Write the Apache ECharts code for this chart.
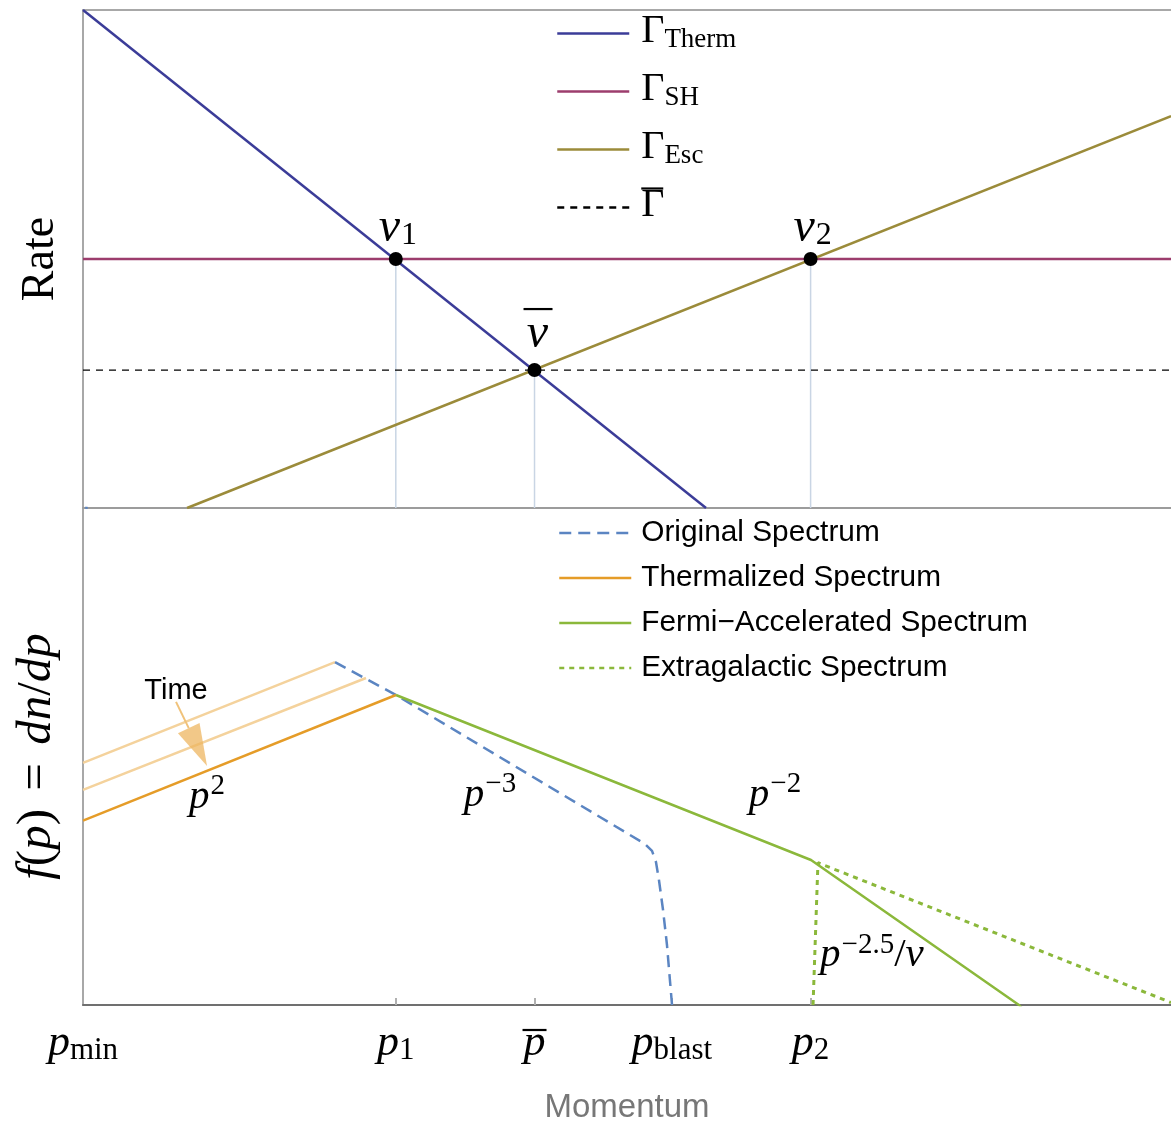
<!DOCTYPE html>
<html>
<head>
<meta charset="utf-8">
<script src="https://cdn.jsdelivr.net/npm/echarts@6/dist/echarts.min.js"></script>
<style>
  html, body { margin: 0; padding: 0; background: #fff; }
  #chart { width: 1171px; height: 1121px; }
</style>
</head>
<body>
<div id="chart"></div>
<script>
// Momentum axis (logarithmic momentum, arbitrary units)
const momentumRange = [0, 8];
const tickValues = [0, 2.30, 3.32, 4.33, 5.35];
const tickNames = ['min', '1', 'bar', 'blast', '2'];

// Upper panel: rates (log scale, arbitrary units)
const rateRange = [0, 10];
const gammaTherm = [[0, 10], [4.581, 0]];
const gammaSH = [[0, 5.0], [8, 5.0]];
const gammaEsc = [[0.765, 0], [8, 7.87]];
const gammaMean = [[0, 2.77], [8, 2.77]];
const crossings = [[2.30, 5.0], [3.32, 2.77], [5.35, 5.0]];
const crossingNames = ['1', 'bar', '2'];

// Lower panel: spectra f(p) (log scale, arbitrary units)
const spectrumRange = [0, 10];
const earlierThermal1 = [[0, 4.87], [1.853, 6.90]];
const earlierThermal2 = [[0, 4.33], [2.081, 6.58]];
const originalSpectrum = [
  [0, 10.6], [0.03, 9.9], null,
  [1.853, 6.90], [2.301, 6.237], [3.801, 3.783], [4.022, 3.42], [4.132, 3.24],
  [4.184, 3.10], [4.213, 2.877], [4.235, 2.515], [4.265, 1.911], [4.294, 1.207],
  [4.331, 0], [4.345, -0.4]
];
const thermalizedSpectrum = [[0, 3.71], [2.301, 6.237]];
const fermiSpectrum = [[2.301, 6.237], [5.353, 2.918], [6.882, 0], [6.95, -0.2]];
const extragalacticSpectrum = [[5.368, -0.2], [5.368, 0], [5.404, 2.862], [8, 0.05]];
const timeArrow = [[0.684, 6.10], [0.912, 4.81]];
const spectrumLabels = [
  { at: [0.684, 6.318], text: '{t|Time}' },
  { at: [0.912, 4.19], text: '{p|p}{sup|2}' },
  { at: [2.993, 4.23], text: '{p|p}{sup|−3}' },
  { at: [5.088, 4.23], text: '{p|p}{sup|−2}' },
  { at: [5.801, 1.00], text: '{p|p}{sup|−2.5}{r|/}{p|v}' }
];

const SERIF = 'Liberation Serif';
const SANS = 'Liberation Sans';

const labelRich = {
  t: { fontFamily: SANS, fontSize: 29, fill: '#000' },
  p: { fontFamily: SERIF, fontStyle: 'italic', fontSize: 41, fill: '#000' },
  r: { fontFamily: SERIF, fontSize: 41, fill: '#000' },
  sup: { fontFamily: SERIF, fontSize: 29, fill: '#000', padding: [0, 0, 20, 1] },
  v: { fontFamily: SERIF, fontStyle: 'italic', fontSize: 48, fill: '#000' },
  sub: { fontFamily: SERIF, fontSize: 32, fill: '#000', padding: [16, 0, 0, 1] }
};

const legendNamesRate = ['Therm', 'SH', 'Esc', 'mean'];
const legendNamesSpectrum = ['Original Spectrum', 'Thermalized Spectrum', 'Fermi−Accelerated Spectrum', 'Extragalactic Spectrum'];

const chart = echarts.init(document.getElementById('chart'));

const frame = { show: true, onZero: false, lineStyle: { color: '#a8a8a8', width: 2 } };
const hidden = { show: false };

function lineSeries(name, data, color, width, dash, xi, yi, z) {
  return {
    type: 'line', name: name, data: data, xAxisIndex: xi, yAxisIndex: yi,
    symbol: 'none', silent: true, animation: false, z: z || 2, clip: true,
    connectNulls: false,
    lineStyle: { color: color, width: width, type: dash || 'solid', cap: 'butt' },
    itemStyle: { color: color }
  };
}

const option = {
  animation: false,
  backgroundColor: '#fff',
  grid: [
    { left: 83, top: 10, width: 1088, height: 498, outerBoundsMode: 'none' },
    { left: 83, top: 508, width: 1088, height: 497, outerBoundsMode: 'none' }
  ],
  xAxis: [
    { type: 'value', gridIndex: 0, min: momentumRange[0], max: momentumRange[1], position: 'bottom',
      axisLine: { show: true, onZero: false, lineStyle: { color: '#9c9c9c', width: 2 } },
      axisTick: hidden, axisLabel: hidden, splitLine: hidden },
    { type: 'value', gridIndex: 0, min: momentumRange[0], max: momentumRange[1], position: 'top',
      axisLine: frame, axisTick: hidden, axisLabel: hidden, splitLine: hidden },
    { type: 'value', gridIndex: 1, min: momentumRange[0], max: momentumRange[1], position: 'bottom',
      axisLine: { show: true, onZero: false, lineStyle: { color: '#707070', width: 2 } },
      axisTick: { show: true, inside: true, length: 7, customValues: tickValues.slice(1),
        lineStyle: { color: '#b0b0b0', width: 2 } },
      splitLine: hidden,
      axisLabel: {
        show: true, margin: 14, customValues: tickValues, hideOverlap: false,
        formatter: function (value) {
          const n = tickNames[tickValues.indexOf(value)];
          if (n === 'bar') return '{bar| }\n{pb|p}';
          return '{p|p}{sub|' + n + '}';
        },
        rich: {
          p: { fontFamily: SERIF, fontStyle: 'italic', fontSize: 44, color: '#000', lineHeight: 48 },
          pb: { fontFamily: SERIF, fontStyle: 'italic', fontSize: 44, color: '#000', lineHeight: 4 },
          bar: { width: 24, height: 2.2, backgroundColor: '#000', lineHeight: 22, fontSize: 2 },
          sub: { fontFamily: SERIF, fontSize: 31, color: '#000', padding: [16, 0, 0, 0] }
        }
      },
      name: 'Momentum', nameLocation: 'middle', nameGap: 86, nameMoveOverlap: false,
      nameTextStyle: { fontFamily: SANS, fontSize: 33, color: '#777' }
    }
  ],
  yAxis: [
    { type: 'value', gridIndex: 0, min: rateRange[0], max: rateRange[1],
      axisLine: frame, axisTick: hidden, axisLabel: hidden, splitLine: hidden,
      name: 'Rate', nameLocation: 'middle', nameRotate: 90, nameGap: 19, nameMoveOverlap: false,
      nameTextStyle: { fontFamily: SERIF, fontSize: 46, color: '#000' } },
    { type: 'value', gridIndex: 1, min: spectrumRange[0], max: spectrumRange[1],
      axisLine: frame, axisTick: hidden, axisLabel: hidden, splitLine: hidden,
      name: '{i|f}{r|(}{i|p}{r|) }{e|=}{r| }{i|dn}{r|/}{i|dp}', nameLocation: 'middle', nameRotate: 90,
      nameGap: 21, nameMoveOverlap: false,
      nameTextStyle: {
        rich: {
          i: { fontFamily: SERIF, fontStyle: 'italic', fontSize: 49, color: '#000' },
          r: { fontFamily: SERIF, fontSize: 49, color: '#000' },
          e: { fontFamily: SERIF, fontSize: 49, color: '#000', padding: [0, 6, 0, 6] }
        }
      } }
  ],
  legend: [
    {
      orient: 'vertical', left: 556, top: 11, padding: 0, itemGap: 9,
      itemWidth: 72, itemHeight: 14, selectedMode: false,
      data: legendNamesRate,
      itemStyle: { opacity: 0 },
      lineStyle: { width: 2.5 },
      formatter: function (name) {
        if (name === 'mean') return '{bar| }\n{g|Γ}';
        return '{nobar| }\n{g|Γ}{s|' + name + '}';
      },
      textStyle: {
        padding: [0, 0, 0, 7],
        rich: {
          bar: { width: 22, height: 2.2, backgroundColor: '#000', lineHeight: 4, fontSize: 2 },
          nobar: { width: 22, height: 2.2, lineHeight: 4, fontSize: 2 },
          g: { fontFamily: SERIF, fontSize: 40, color: '#000', lineHeight: 38, padding: [0, 0, 9, 0] },
          s: { fontFamily: SERIF, fontSize: 27, color: '#000', lineHeight: 38, padding: [8, 0, 0, 0] }
        }
      }
    },
    {
      orient: 'vertical', left: 558, top: 515, padding: 0, itemGap: 9,
      itemWidth: 72, itemHeight: 14, selectedMode: false,
      data: legendNamesSpectrum,
      itemStyle: { opacity: 0 },
      lineStyle: { width: 2.5 },
      textStyle: { fontFamily: SANS, fontSize: 29.8, color: '#000', lineHeight: 36, padding: [0, 0, 0, 5] }
    }
  ],
  series: [
    lineSeries('Therm', gammaTherm, '#3b3c98', 2.5, 'solid', 0, 0, 3),
    lineSeries('SH', gammaSH, '#9c3d6d', 2.5, 'solid', 0, 0, 3),
    lineSeries('Esc', gammaEsc, '#9b8b3a', 2.5, 'solid', 0, 0, 3),
    lineSeries('mean', gammaMean, '#000', 1.3, [7, 6], 0, 0, 2),
    {
      // drop lines from each crossing to the bottom of the rate panel
      type: 'custom', xAxisIndex: 0, yAxisIndex: 0, silent: true, z: 1,
      data: crossings,
      renderItem: function (params, api) {
        const top = api.coord([api.value(0), api.value(1)]);
        const bottom = api.coord([api.value(0), rateRange[0]]);
        return { type: 'line', shape: { x1: top[0], y1: top[1], x2: bottom[0], y2: bottom[1] },
          style: { stroke: '#c9d5e4', lineWidth: 1.5 } };
      }
    },
    {
      type: 'scatter', xAxisIndex: 0, yAxisIndex: 0, silent: true, z: 5,
      data: crossings, symbolSize: 14, itemStyle: { color: '#000', opacity: 1 }
    },
    {
      // v labels above the crossings
      type: 'custom', xAxisIndex: 0, yAxisIndex: 0, silent: true, z: 6, clip: false,
      data: crossings,
      renderItem: function (params, api) {
        const pt = api.coord([api.value(0), api.value(1)]);
        const n = crossingNames[params.dataIndex];
        if (n === 'bar') {
          return { type: 'group', children: [
            { type: 'text', x: pt[0] + 3, y: pt[1] - 36,
              style: { text: '{v|v}', rich: labelRich, align: 'center', verticalAlign: 'middle' } },
            { type: 'line', shape: { x1: pt[0] - 11, y1: pt[1] - 61, x2: pt[0] + 18, y2: pt[1] - 61 },
              style: { stroke: '#000', lineWidth: 2.2 } }
          ] };
        }
        return { type: 'text', x: pt[0] + 2, y: pt[1] - 31,
          style: { text: '{v|v}{sub|' + n + '}', rich: labelRich, align: 'center', verticalAlign: 'middle' } };
      }
    },
    lineSeries('earlier1', earlierThermal1, '#f4d29c', 2.5, 'solid', 2, 1, 2),
    lineSeries('earlier2', earlierThermal2, '#f4d29c', 2.5, 'solid', 2, 1, 2),
    lineSeries('Original Spectrum', originalSpectrum, '#5b85c2', 2.5, [12, 7], 2, 1, 3),
    lineSeries('Thermalized Spectrum', thermalizedSpectrum, '#e59c28', 2.5, 'solid', 2, 1, 4),
    lineSeries('Fermi−Accelerated Spectrum', fermiSpectrum, '#8bb83b', 2.5, 'solid', 2, 1, 4),
    lineSeries('Extragalactic Spectrum', extragalacticSpectrum, '#8bb83b', 3, [5, 5], 2, 1, 4),
    {
      // arrow showing the thermal spectrum evolving with time
      type: 'custom', xAxisIndex: 2, yAxisIndex: 1, silent: true, z: 5,
      data: [timeArrow[0].concat(timeArrow[1])],
      renderItem: function (params, api) {
        const a = api.coord([api.value(0), api.value(1)]);
        const b = api.coord([api.value(2), api.value(3)]);
        const dx = b[0] - a[0], dy = b[1] - a[1];
        const len = Math.sqrt(dx * dx + dy * dy);
        const ux = dx / len, uy = dy / len;
        const headLen = 42, headHalf = 12;
        const bx = b[0] - ux * headLen, by = b[1] - uy * headLen;
        return { type: 'group', children: [
          { type: 'line', shape: { x1: a[0], y1: a[1], x2: bx, y2: by },
            style: { stroke: '#f0c27a', lineWidth: 2 } },
          { type: 'polygon', shape: { points: [
              [b[0], b[1]],
              [bx - uy * headHalf, by + ux * headHalf],
              [bx + uy * headHalf, by - ux * headHalf]
            ] }, style: { fill: 'rgba(238,182,96,0.75)' } }
        ] };
      }
    },
    {
      type: 'custom', xAxisIndex: 2, yAxisIndex: 1, silent: true, z: 6, clip: false,
      data: spectrumLabels.map(function (d) { return d.at; }),
      renderItem: function (params, api) {
        const pt = api.coord([api.value(0), api.value(1)]);
        return { type: 'text', x: pt[0], y: pt[1],
          style: { text: spectrumLabels[params.dataIndex].text, rich: labelRich,
            align: 'center', verticalAlign: 'middle' } };
      }
    }
  ]
};

chart.setOption(option);
</script>
</body>
</html>
